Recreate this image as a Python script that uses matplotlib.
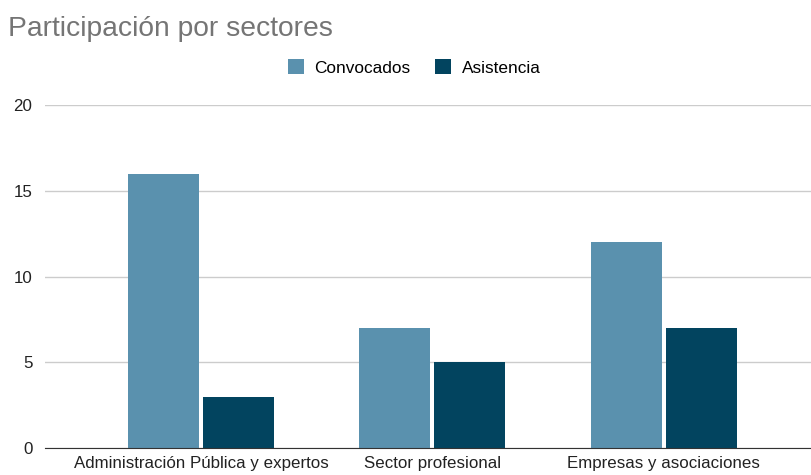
import numpy as np
import matplotlib.pyplot as plt

categorias = ["Administración Pública y expertos", "Sector profesional", "Empresas y asociaciones"]
convocados = [16, 7, 12]
asistencia = [3, 5, 7]
series = ["Convocados", "Asistencia"]
colores = ["#5a91ae", "#02445f"]

plt.rcParams['font.family'] = ['Liberation Sans', 'DejaVu Sans']

fig = plt.figure(figsize=(8.12, 4.75), dpi=100)
ax = fig.add_axes([0.0554, 0.0568, 0.9446, 0.7221])

x = np.arange(len(categorias))
w = 0.307
off = 0.162
ax.bar(x - off, convocados, w, color=colores[0], label=series[0], zorder=3)
ax.bar(x + off, asistencia, w, color=colores[1], label=series[1], zorder=3)

ax.set_xlim(-0.674, 2.64)
ax.set_ylim(0, 20)
ax.set_yticks([0, 5, 10, 15, 20])
ax.yaxis.grid(True, color="#cccccc", linewidth=1, zorder=0)
ax.set_xticks(x)
ax.set_xticklabels(categorias, fontsize=12.2, color="#222222")
ax.tick_params(axis='y', labelsize=12.2, labelcolor="#222222", length=0, pad=9)
ax.tick_params(axis='x', length=0, pad=6)
for s in ["top", "right", "left"]:
    ax.spines[s].set_visible(False)
ax.spines["bottom"].set_color("#333333")
ax.spines["bottom"].set_zorder(4)

fig.text(0.01, 0.94, "Participación por sectores", fontsize=20.3, color="#757575", va="center")
fig.legend(loc="center", bbox_to_anchor=(0.51, 0.858), ncol=2, frameon=False,
           fontsize=12.4, handlelength=0.95, handleheight=0.95, columnspacing=1.4,
           handletextpad=0.6)

fig.savefig("out.png", dpi=100)
